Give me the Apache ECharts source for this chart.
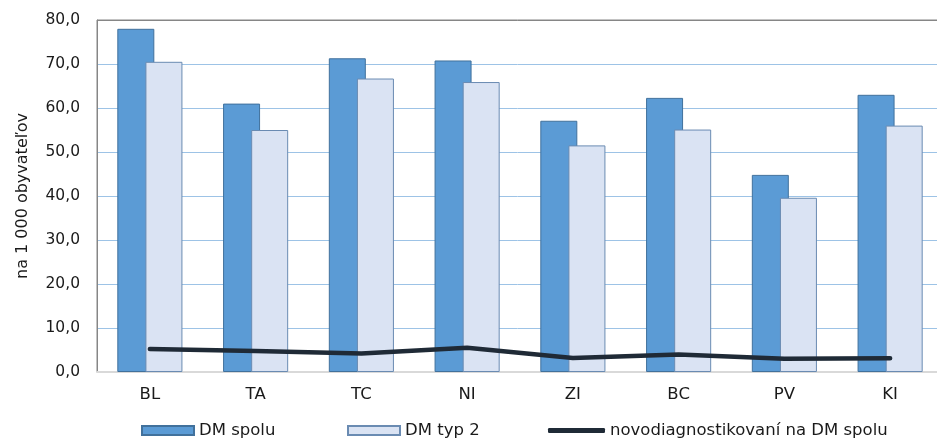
<!DOCTYPE html>
<html>
<head>
<meta charset="utf-8">
<script src="https://cdn.jsdelivr.net/npm/echarts@6/dist/echarts.min.js"></script>
<style>
html,body{margin:0;padding:0;background:#fff;}
#chart{width:937px;height:440px;}
</style>
</head>
<body>
<div id="chart"></div>
<script>
const categories = ['BL', 'TA', 'TC', 'NI', 'ZI', 'BC', 'PV', 'KI'];
const dmSpolu = [78.0, 61.0, 71.3, 70.8, 57.1, 62.3, 44.8, 63.0];
const dmTyp2 = [70.5, 55.0, 66.7, 65.9, 51.5, 55.1, 39.6, 56.0];
const novodiagnostikovani = [5.2, 4.8, 4.2, 5.5, 3.2, 4.0, 3.0, 3.1];
const seriesNames = ['DM spolu', 'DM typ 2', 'novodiagnostikovaní na DM spolu'];
const yAxisName = 'na 1 000 obyvateľov';

const FONT = 'DejaVu Sans';
const TXT = '#1a1a1a';

const chart = echarts.init(document.getElementById('chart'), null, {renderer: 'canvas'});
const legendBase = {
  orient: 'horizontal',
  top: 422,
  itemGap: 0,
  padding: 0,
  itemHeight: 9,
  textStyle: {fontFamily: FONT, fontSize: 16.5, color: TXT, padding: [0, 0, 0, 0]}
};
chart.setOption({
  animation: false,
  backgroundColor: '#ffffff',
  grid: {
    left: 97, width: 846, top: 20, bottom: 68,
    outerBoundsMode: 'none',
    show: true, borderColor: '#868686', borderWidth: 1, backgroundColor: 'transparent'
  },
  legend: [
    Object.assign({}, legendBase, {left: 141, itemWidth: 52, data: [{name: seriesNames[0], icon: 'rect'}]}),
    Object.assign({}, legendBase, {left: 347, itemWidth: 52, data: [{name: seriesNames[1], icon: 'rect'}]}),
    Object.assign({}, legendBase, {left: 548, itemWidth: 57, itemHeight: 5,
      data: [{name: seriesNames[2], icon: 'roundRect', itemStyle: {color: '#1F2A36', borderWidth: 0}}]})
  ],
  xAxis: {
    type: 'category',
    data: categories,
    axisLine: {show: true, lineStyle: {color: '#D9D9D9', width: 2}},
    axisTick: {show: false},
    axisLabel: {fontFamily: FONT, fontSize: 16.5, color: TXT, margin: 14},
    splitLine: {show: false}
  },
  yAxis: {
    type: 'value',
    min: 0, max: 80, interval: 10,
    name: yAxisName,
    nameLocation: 'middle',
    nameRotate: 90,
    nameGap: 66,
    nameTextStyle: {fontFamily: FONT, fontSize: 16, color: TXT},
    axisLine: {show: true, lineStyle: {color: '#868686', width: 1}},
    axisTick: {show: false},
    axisLabel: {
      fontFamily: FONT, fontSize: 15.5, color: TXT, margin: 17,
      formatter: v => v.toFixed(1).replace('.', ',')
    },
    splitLine: {show: true, lineStyle: {
      color: ['#9DC3E6', '#9DC3E6', '#9DC3E6', '#9DC3E6', '#9DC3E6', '#9DC3E6', '#9DC3E6', '#9DC3E6', '#868686'],
      width: 1}}
  },
  series: [
    {
      name: seriesNames[0], type: 'bar', data: dmSpolu,
      barWidth: 37, barGap: '-24%',
      itemStyle: {color: '#5B9BD5', borderColor: '#41719C', borderWidth: 1}
    },
    {
      name: seriesNames[1], type: 'bar', data: dmTyp2,
      barWidth: 37, barGap: '-24%',
      itemStyle: {color: '#DAE3F3', borderColor: '#6A8BB2', borderWidth: 1}
    },
    {
      name: seriesNames[2], type: 'line', data: novodiagnostikovani,
      symbol: 'none', showSymbol: false, z: 5,
      lineStyle: {color: '#1F2A36', width: 4.5, cap: 'round', join: 'round'},
      itemStyle: {color: '#1F2A36'}
    }
  ]
});
</script>
</body>
</html>
